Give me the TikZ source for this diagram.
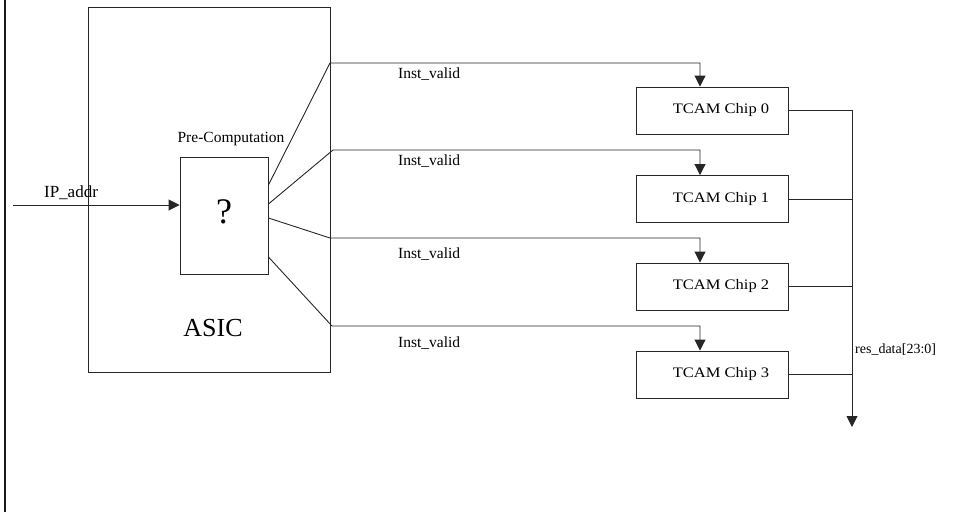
\documentclass[tikz,border=0pt]{standalone}
\usepackage{fontspec}
\setmainfont{Liberation Serif}
\usetikzlibrary{arrows.meta,calc}
\tikzset{
  ln/.style={draw=black!85,line width=0.9pt},
  arr/.style={ln,-{Triangle[width=11pt,length=11pt]}},
  box/.style={ln,rectangle,inner sep=0pt},
  lbl/.style={inner sep=0pt,font=\fontsize{15.5}{18}\selectfont},
  chip/.style={box,minimum width=152pt,minimum height=47pt,font=\fontsize{14.5}{16}\selectfont},
}
\newcommand{\chiptext}[1]{\hspace*{18pt}\scalebox{1.14}[1]{#1}}
\begin{document}
\begin{tikzpicture}[x=1pt,y=-1pt]
\useasboundingbox (0,0) rectangle (956,512);
\draw[line width=2pt,black!90] (5,0) -- (5,512);
% main boxes
\node[box,minimum width=242pt,minimum height=365pt] (asic) at (209,189.5) {};
\node[box,minimum width=88pt,minimum height=117pt] (pre) at (224,215.5) {};
\node[inner sep=0pt,font=\fontsize{36}{40}\selectfont] (q) at (224,212) {?};
\node[inner sep=0pt,font=\fontsize{26}{30}\selectfont] (asiclbl) at (213,328) {ASIC};
\node[lbl] (prelbl) at (231,139) {Pre-Computation};
% chips
\node[chip] (c0) at (712,110.5) {\chiptext{TCAM Chip 0}};
\node[chip] (c1) at (712,199) {\chiptext{TCAM Chip 1}};
\node[chip] (c2) at (712,286.5) {\chiptext{TCAM Chip 2}};
\node[chip] (c3) at (712,374.5) {\chiptext{TCAM Chip 3}};
% input
\coordinate (ipin) at (13,205);
\draw[arr] (ipin) -- (pre.west |- ipin);
\node[lbl,font=\fontsize{17}{20}\selectfont] (iplbl) at (71,193) {IP\_addr};
% fan-out
\coordinate (f0) at (330,63);
\coordinate (f1) at (333,150);
\coordinate (f2) at (330,238);
\coordinate (f3) at (332,326);
\draw[arr] ([yshift=30.5pt]pre.east) -- (f0) -| ([xshift=-12pt]c0.north);
\draw[arr] ([yshift=11.5pt]pre.east) -- (f1) -| ([xshift=-12pt]c1.north);
\draw[arr] ([yshift=-2.5pt]pre.east) -- (f2) -| ([xshift=-12pt]c2.north);
\draw[arr] ([yshift=-41.5pt]pre.east) -- (f3) -| ([xshift=-12pt]c3.north);
\node[lbl,anchor=west] (iv0) at (398,74) {Inst\_valid};
\node[lbl,anchor=west] (iv1) at (398,161) {Inst\_valid};
\node[lbl,anchor=west] (iv2) at (398,254) {Inst\_valid};
\node[lbl,anchor=west] (iv3) at (398,343) {Inst\_valid};
% result bus
\coordinate (bend) at (852,427);
\draw[arr] (c0.east) -| (bend);
\draw[ln] (c1.east) -- (c1.east -| bend);
\draw[ln] (c2.east) -- (c2.east -| bend);
\draw[ln] (c3.east) -- (c3.east -| bend);
\node[lbl,anchor=west,font=\fontsize{14}{16}\selectfont] (res) at (855,350) {res\_data[23:0]};
\end{tikzpicture}
\end{document}
